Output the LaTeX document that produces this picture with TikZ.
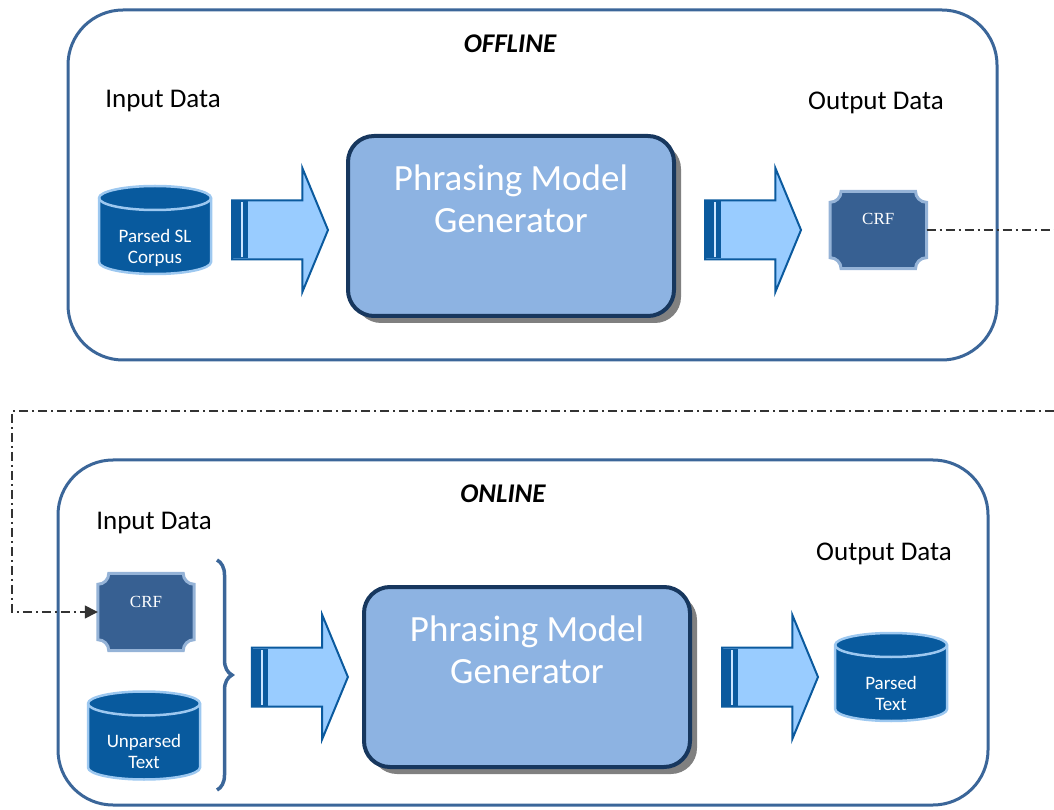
\documentclass[tikz,border=0pt]{standalone}
\usepackage{fontspec}
\setmainfont{Carlito}
\newfontfamily\crffont{Liberation Serif}
\usepackage{tikz}
\usetikzlibrary{shapes.arrows, arrows.meta, positioning, shadows, backgrounds, decorations.pathreplacing}

\definecolor{frameblue}{HTML}{3B6699}
\definecolor{dbfill}{HTML}{085A9E}
\definecolor{dbline}{HTML}{9DC8F0}
\definecolor{arrfill}{HTML}{99CCFF}
\definecolor{arrline}{HTML}{0B5A9E}
\definecolor{genfill}{HTML}{8DB3E2}
\definecolor{genline}{HTML}{17375E}
\definecolor{crffill}{HTML}{376092}
\definecolor{crfline}{HTML}{95B3D7}

% plaque with concave corners, drawn round a named node
\newcommand{\plaque}[1]{%
  \filldraw[fill=crffill, draw=crfline, line width=3pt]
    ([xshift=11pt]#1.north west) -- ([xshift=-11pt]#1.north east)
    arc[start angle=180, end angle=270, radius=11pt]
    -- ([yshift=11pt]#1.south east)
    arc[start angle=90, end angle=180, radius=11pt]
    -- ([xshift=11pt]#1.south west)
    arc[start angle=0, end angle=90, radius=11pt]
    -- ([yshift=-11pt]#1.north west)
    arc[start angle=270, end angle=360, radius=11pt] -- cycle;}

% database can, drawn round a named node 112pt wide
\newcommand{\dbcan}[1]{%
  \filldraw[fill=dbfill, draw=dbline, line width=2.5pt]
    ([yshift=-12pt]#1.north west) -- ([yshift=12pt]#1.south west)
    arc[start angle=180, end angle=360, x radius=56pt, y radius=12pt]
    -- ([yshift=-12pt]#1.north east)
    arc[start angle=0, end angle=180, x radius=56pt, y radius=12pt] -- cycle;
  \draw[dbline, line width=2.5pt] ([yshift=-12pt]#1.north east)
    arc[start angle=0, end angle=-180, x radius=56pt, y radius=12pt];}

\begin{document}
\begin{tikzpicture}[x=1pt, y=1pt,
    panel/.style={rectangle, draw=frameblue, line width=3pt, rounded corners=55pt},
    heading/.style={font=\fontsize{27}{32}\selectfont\bfseries\itshape},
    datalabel/.style={font=\fontsize{27}{32}\selectfont},
    db/.style={rectangle, minimum width=112pt, minimum height=88pt, inner sep=0pt, outer sep=0pt},
    dbtext/.style={text=white, align=center, font=\fontsize{19}{21}\selectfont, inner sep=0pt},
    blockarrow/.style={single arrow, draw=arrline, fill=arrfill, line width=2pt, inner sep=0pt, inner ysep=28.5pt, minimum height=96pt, minimum width=122pt, single arrow head extend=32.5pt, single arrow tip angle=135},
    gen/.style={rectangle, rounded corners=26pt, draw=genline, fill=genfill, line width=4pt, minimum width=326pt, minimum height=180pt, drop shadow={shadow xshift=7pt, shadow yshift=-7pt, fill=black!50, opacity=1}},
    gentext/.style={text=white, align=center, font=\fontsize{37}{42}\selectfont, inner sep=0pt},
    crf/.style={rectangle, minimum width=96pt, minimum height=77pt, text=white, font=\crffont\fontsize{17}{20}\selectfont, text height=12pt, text depth=22pt},
    link/.style={draw=black!80, line width=1.3pt, dash pattern=on 9pt off 4pt on 2pt off 4pt},
    curly/.style={draw=frameblue, line width=3.5pt, decorate, decoration={brace, amplitude=15pt}}
]
\useasboundingbox (0,0) rectangle (1054,809);

% offline
\node (offline) [panel, minimum width=929pt, minimum height=350pt] at (532.5,624) {};
\node (offlineTitle) [heading] at (510,765) {OFFLINE};
\node (inLabelA) [datalabel] at (163,708) {Input Data};
\node (outLabelA) [datalabel] at (876,706) {Output Data};
\node (corpus) [db] at (155,579) {};
\node (arrA) [blockarrow, right=20pt of corpus] {};
\node (genA) [gen] at (511,583) {};
\node (genAtxt) [gentext, below=31pt of genA.north] {Phrasing Model\\Generator};
\node (arrB) [blockarrow, right=28pt of genA.east |- arrA.tail] {};
\node (crfA) [crf, right=28pt of arrB] {CRF};

% online
\node (online) [panel, minimum width=930pt, minimum height=345pt] at (523,176.5) {};
\node (onlineTitle) [heading] at (503,315) {ONLINE};
\node (inLabelB) [datalabel] at (154,286) {Input Data};
\node (outLabelB) [datalabel] at (884,255) {Output Data};
\node (crfB) [crf] at (146,197) {CRF};
\node (unparsed) [db] at (144,73.5) {};
\node (genB) [gen] at (527,132) {};
\node (genBtxt) [gentext, below=31pt of genB.north] {Phrasing Model\\Generator};
\node (arrC) [blockarrow, left=13pt of genB] {};
\node (arrD) [blockarrow, right=29pt of genB] {};
\node (parsed) [db, right=16pt of arrD] {};

\begin{scope}[on background layer]
\plaque{crfA}
\plaque{crfB}
\dbcan{corpus}
\dbcan{unparsed}
\dbcan{parsed}
\end{scope}
\node (corpusTxt) [dbtext] at ([yshift=-18pt]corpus.center) {Parsed SL\\Corpus};
\node (unparsedTxt) [dbtext] at ([yshift=-16pt]unparsed.center) {Unparsed\\Text};
\node (parsedTxt) [dbtext] at ([yshift=-16pt]parsed.center) {Parsed\\Text};

% stripes at the arrow tails
\foreach \a in {arrA,arrB,arrC,arrD}{
  \fill[arrline] ([yshift=-28.5pt]\a.tail) rectangle ([xshift=17pt, yshift=28.5pt]\a.tail);
  \draw[arrfill!50!white, line width=1.5pt] ([xshift=11pt, yshift=-27.5pt]\a.tail) -- ([xshift=11pt, yshift=27.5pt]\a.tail);
}

% brace over the two inputs
\coordinate (braceTop) at (217,249);
\coordinate (braceBot) at (217,19);
\draw[curly] (braceTop) -- (braceBot);

% model passed from offline to online
\coordinate (exitA) at (1054,579);
\draw[link] (crfA.east) -- (exitA);
\coordinate (entryB) at (1054,398);
\coordinate (bendB) at (12,398);
\draw[link, -{Triangle[length=13pt, width=13pt]}] (entryB) -- (bendB) |- (crfB.west);
\end{tikzpicture}
\end{document}
